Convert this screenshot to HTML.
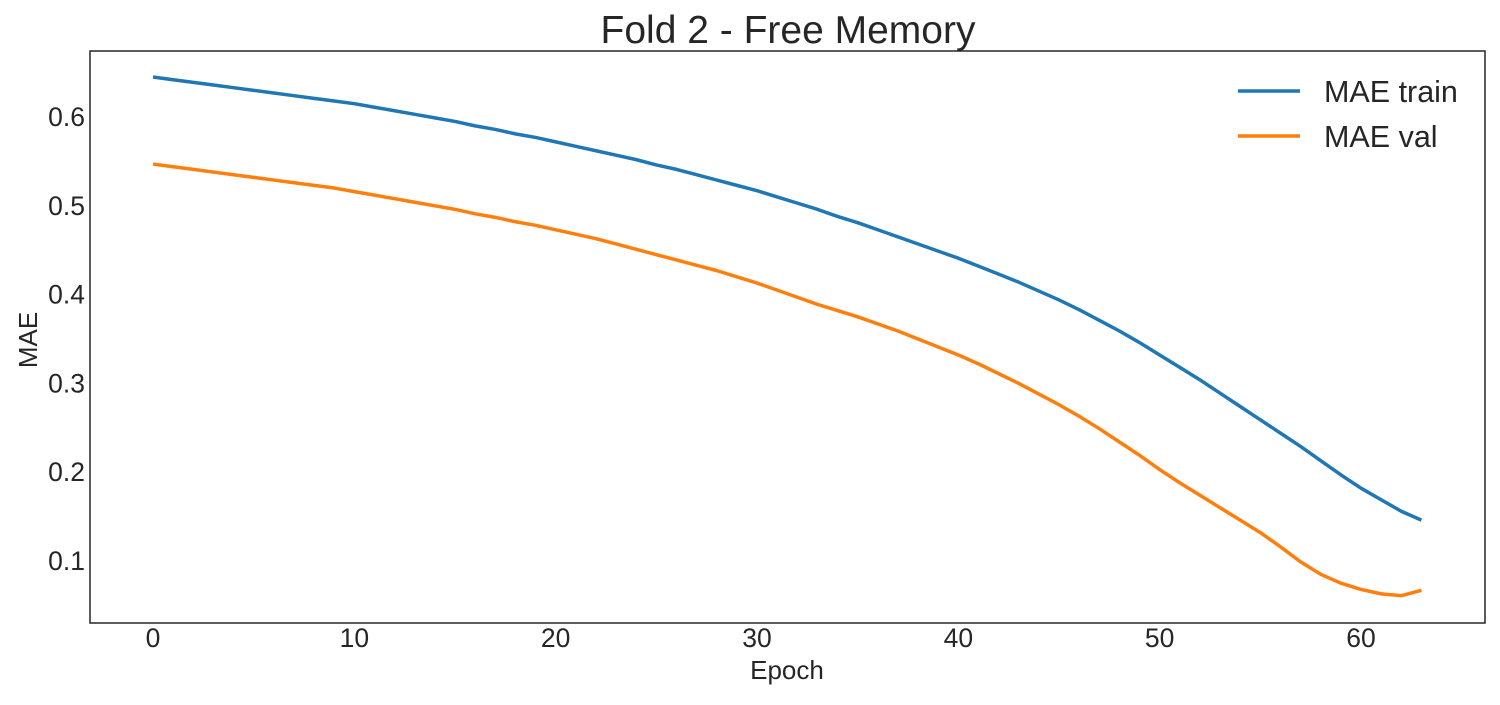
<!DOCTYPE html>
<html><head><meta charset="utf-8"><style>
html,body{margin:0;padding:0;background:#fff;}
svg text{font-family:"Liberation Sans",sans-serif;fill:#262626;}
</style></head><body>
<svg id="chart" width="1500" height="700" xmlns="http://www.w3.org/2000/svg">
<text x="788" y="43" font-size="39" text-anchor="middle">Fold 2 - Free Memory</text>
<g id="axes"></g>
<rect x="90" y="51" width="1395" height="572" fill="none" stroke="#262626" stroke-width="1.5"/>
<text x="787" y="679" font-size="26" text-anchor="middle">Epoch</text>
<text transform="translate(37,340) rotate(-90)" font-size="26" text-anchor="middle">MAE</text>
<g>
<line x1="1238" y1="91" x2="1300" y2="91" stroke="#1f77b4" stroke-width="3.5"/>
<text x="1324" y="102" font-size="30.5">MAE train</text>
<line x1="1238" y1="136" x2="1300" y2="136" stroke="#ff7f0e" stroke-width="3.5"/>
<text x="1324" y="147" font-size="30.5">MAE val</text>
</g>
</svg>
<script>
const trainMAE=[.645,.642,.639,.636,.633,.630,.627,.624,.621,.618,.615,.611,.607,.603,.599,.595,.590,.586,.581,.577,.572,.567,.562,.557,.552,.546,.541,.535,.529,.523,.517,.510,.503,.496,.488,.481,.473,.465,.457,.449,.441,.432,.423,.414,.404,.394,.383,.371,.359,.346,.332,.318,.304,.289,.274,.259,.244,.229,.213,.197,.182,.169,.156,.146];
const valMAE=[.547,.544,.541,.538,.535,.532,.529,.526,.523,.520,.516,.512,.508,.504,.500,.496,.491,.487,.482,.478,.473,.468,.463,.457,.451,.445,.439,.433,.427,.420,.413,.405,.397,.389,.382,.375,.367,.359,.350,.341,.332,.322,.311,.300,.288,.276,.263,.249,.234,.219,.203,.188,.174,.160,.146,.132,.116,.099,.085,.075,.068,.063,.061,.067];
const xTicks=[0,10,20,30,40,50,60];
const yTicks=[0.1,0.2,0.3,0.4,0.5,0.6];
const X=v=>153+v*(1361-153)/60;
const Y=v=>117+(0.6-v)*888;
const ns="http://www.w3.org/2000/svg";
const svg=document.getElementById('chart');
const g=document.getElementById('axes');
xTicks.forEach(t=>{
  const el=document.createElementNS(ns,'text');
  
  
  el.setAttribute('x',X(t));el.setAttribute('y',647);
  el.setAttribute('font-size','26.5');el.setAttribute('text-anchor','middle');
  el.textContent=t;g.appendChild(el);
});
yTicks.forEach(t=>{
  const el=document.createElementNS(ns,'text');
  
  
  el.setAttribute('x',85);el.setAttribute('y',Y(t)+9);
  el.setAttribute('font-size','26.5');el.setAttribute('text-anchor','end');
  el.textContent=t.toFixed(1);g.appendChild(el);
});
function line(data,color,name){
  const p=document.createElementNS(ns,'polyline');
  
  
  p.setAttribute('points',data.map((v,i)=>X(i)+','+Y(v)).join(' '));
  p.setAttribute('fill','none');p.setAttribute('stroke',color);
  p.setAttribute('stroke-width','3.5');p.setAttribute('stroke-linejoin','round');
  svg.appendChild(p);
}
line(trainMAE,'#1f77b4','mae-train-line');
line(valMAE,'#ff7f0e','mae-val-line');
</script>
</body></html>
